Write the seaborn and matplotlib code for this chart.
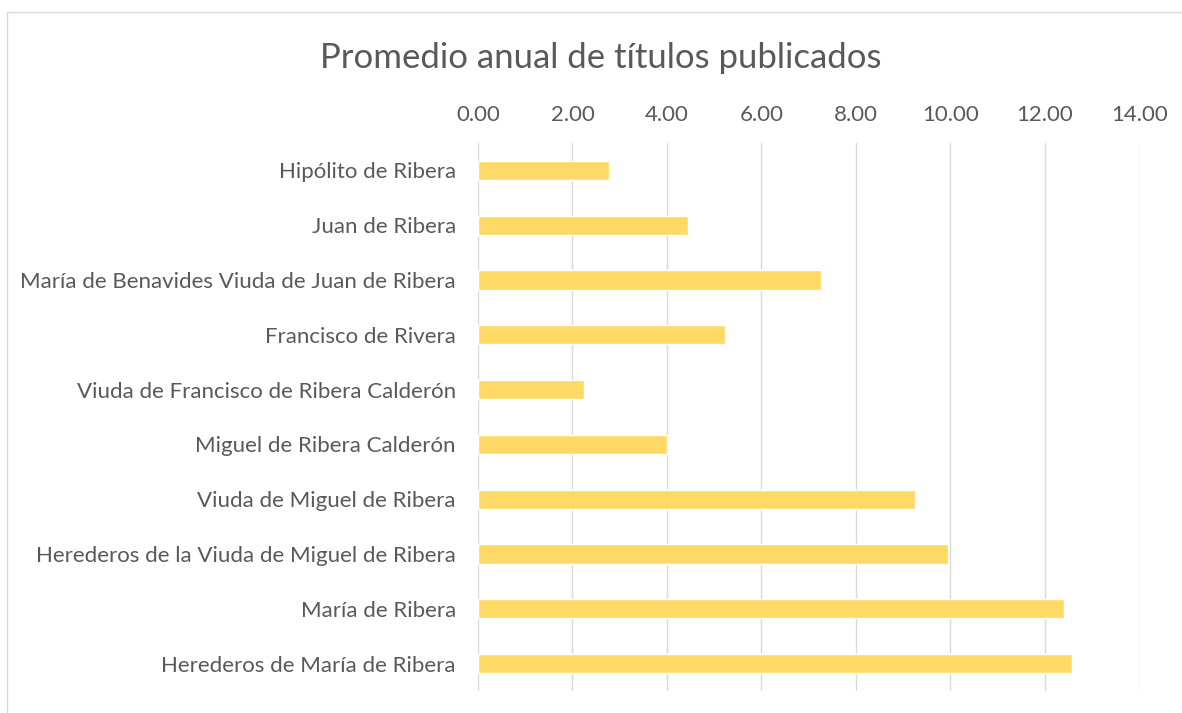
import matplotlib
matplotlib.use("Agg")
import matplotlib.pyplot as plt
import seaborn as sns
import pandas as pd
from matplotlib.patches import Rectangle
from matplotlib.ticker import FormatStrFormatter, MultipleLocator

categories = [
    "Hipólito de Ribera",
    "Juan de Ribera",
    "María de Benavides Viuda de Juan de Ribera",
    "Francisco de Rivera",
    "Viuda de Francisco de Ribera Calderón",
    "Miguel de Ribera Calderón",
    "Viuda de Miguel de Ribera",
    "Herederos de la Viuda de Miguel de Ribera",
    "María de Ribera",
    "Herederos de María de Ribera",
]
values = [2.78, 4.44, 7.27, 5.22, 2.25, 4.00, 9.26, 9.96, 12.40, 12.58]
title = "Promedio anual de títulos publicados"

sns.set_theme(style="white")
plt.rcParams["font.family"] = ["Lato", "DejaVu Sans"]

W, H = 1182, 713
fig = plt.figure(figsize=(W / 100, H / 100), dpi=100)
ax = fig.add_axes([478 / W, 1 - 691 / H, (1139.3 - 478) / W, (691 - 143) / H])

df = pd.DataFrame({"cat": categories, "val": values})
sns.barplot(data=df, x="val", y="cat", color="#FFD966", saturation=1, width=0.35, ax=ax, zorder=3)

ax.set_xlim(0, 14)
ax.xaxis.set_major_locator(MultipleLocator(2))
ax.xaxis.set_major_formatter(FormatStrFormatter("%.2f"))
ax.xaxis.tick_top()
ax.grid(axis="x", color="#D9D9D9", linewidth=1.0, zorder=0)
ax.set_axisbelow(True)
for s in ax.spines.values():
    s.set_visible(False)
ax.tick_params(axis="x", length=0, pad=13, labelsize=16, labelcolor="#595959")
ax.tick_params(axis="y", length=0, pad=16, labelsize=16, labelcolor="#595959")
ax.set_xlabel("")
ax.set_ylabel("")

fig.text(601 / W, 1 - 58 / H, title, ha="center", va="center", fontsize=25, color="#595959")

fig.patches.append(Rectangle((7 / W, -0.1), 1.2, 1 - 12 / H + 0.1, transform=fig.transFigure,
                             fill=False, edgecolor="#D9D9D9", linewidth=1.0))

fig.savefig("out.png", dpi=100, facecolor="white")
